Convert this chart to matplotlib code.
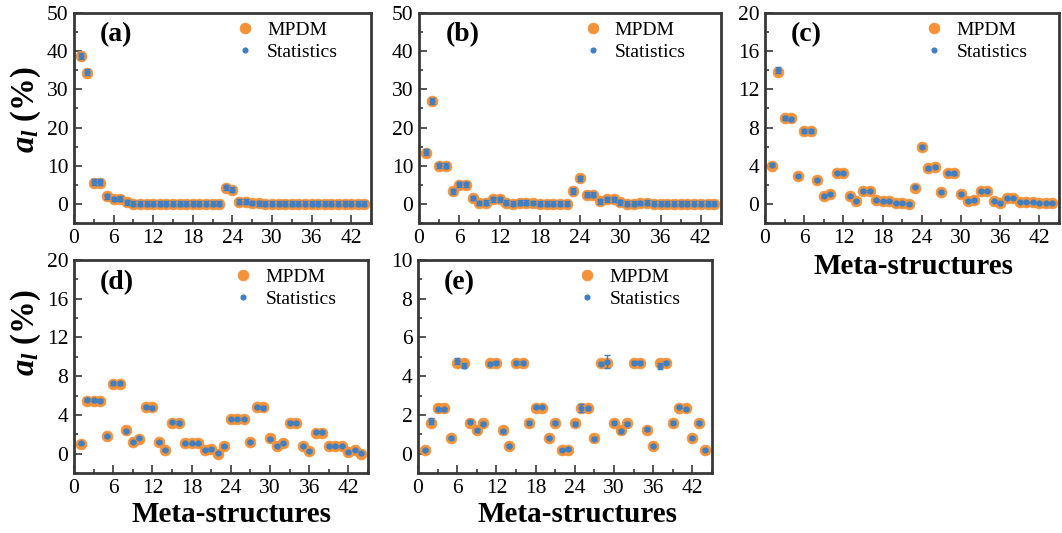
import matplotlib
matplotlib.use("Agg")
import matplotlib.pyplot as plt
from matplotlib.ticker import MultipleLocator
import numpy as np

plt.rcParams['font.family'] = ['Liberation Serif', 'DejaVu Serif']
plt.rcParams['mathtext.fontset'] = 'custom'
plt.rcParams['mathtext.it'] = 'Liberation Serif:italic:bold'
plt.rcParams['mathtext.rm'] = 'Liberation Serif:bold'
plt.rcParams['mathtext.bf'] = 'Liberation Serif:bold'

# ---------------- data ----------------
x_idx = list(range(1, 45))

a_mpdm = [38.7, 34.4, 5.6, 5.6, 2.0, 1.3, 1.4, 0.4, 0.1, 0.1,
          0.1, 0.1, 0.1, 0.05, 0.05, 0.05, 0.05, 0.05, 0.05, 0.05,
          0.05, 0.05, 4.2, 3.7, 0.6, 0.6, 0.25, 0.15, 0.1, 0.1,
          0.05, 0.05, 0.05, 0.05, 0.05, 0.05, 0.05, 0.05, 0.05, 0.05,
          0.05, 0.05, 0.05, 0.05]
a_stat = [38.8, 34.5, 5.7, 5.7, 2.0, 1.3, 1.4, 0.4, 0.1, 0.1,
          0.1, 0.1, 0.1, 0.05, 0.05, 0.05, 0.05, 0.05, 0.05, 0.05,
          0.05, 0.05, 4.3, 3.7, 0.6, 0.6, 0.25, 0.15, 0.1, 0.1,
          0.05, 0.05, 0.05, 0.05, 0.05, 0.05, 0.05, 0.05, 0.05, 0.05,
          0.05, 0.05, 0.05, 0.05]
a_err = [0.8, 0.8, 0.7, 0.7, 0.6, 0.6, 0.6, 0.6, 0.6, 0.6,
         0.6, 0.6, 0.6, 0.6, 0.6, 0.6, 0.6, 0.6, 0.6, 0.6,
         0.6, 0.6, 0.7, 0.7, 0.6, 0.6, 0.6, 0.6, 0.6, 0.6,
         0.6, 0.6, 0.6, 0.6, 0.6, 0.6, 0.6, 0.6, 0.6, 0.6,
         0.6, 0.6, 0.6, 0.6]

b_mpdm = [13.4, 26.9, 10.0, 9.9, 3.3, 5.0, 5.0, 1.6, 0.2, 0.3,
          1.2, 1.2, 0.3, 0.1, 0.3, 0.3, 0.2, 0.1, 0.1, 0.05,
          0.05, 0.05, 3.3, 6.7, 2.4, 2.4, 0.7, 1.2, 1.2, 0.4,
          0.1, 0.1, 0.2, 0.3, 0.1, 0.1, 0.05, 0.1, 0.05, 0.05,
          0.05, 0.05, 0.05, 0.05]
b_stat = [13.5, 27.0, 10.1, 10.0, 3.3, 5.1, 5.1, 1.6, 0.2, 0.3,
          1.2, 1.2, 0.3, 0.1, 0.3, 0.3, 0.2, 0.1, 0.1, 0.05,
          0.05, 0.05, 3.4, 6.7, 2.4, 2.4, 0.7, 1.2, 1.2, 0.4,
          0.1, 0.1, 0.2, 0.3, 0.1, 0.1, 0.05, 0.1, 0.05, 0.05,
          0.05, 0.05, 0.05, 0.05]
b_err = [0.8, 0.8, 0.7, 0.7, 0.6, 0.6, 0.6, 0.6, 0.6, 0.6,
         0.6, 0.6, 0.6, 0.6, 0.6, 0.6, 0.6, 0.6, 0.6, 0.6,
         0.6, 0.6, 0.7, 0.7, 0.6, 0.6, 0.6, 0.6, 0.6, 0.6,
         0.6, 0.6, 0.6, 0.6, 0.6, 0.6, 0.6, 0.6, 0.6, 0.6,
         0.6, 0.6, 0.6, 0.6]

c_mpdm = [4.0, 13.8, 8.95, 8.95, 2.95, 7.65, 7.6, 2.5, 0.8, 1.05,
          3.25, 3.25, 0.8, 0.3, 1.35, 1.35, 0.4, 0.35, 0.35, 0.1,
          0.1, 0.0, 1.7, 6.0, 3.8, 3.85, 1.25, 3.25, 3.2, 1.05,
          0.3, 0.45, 1.35, 1.35, 0.3, 0.05, 0.6, 0.6, 0.25, 0.15,
          0.15, 0.05, 0.05, 0.05]
c_stat = [4.1, 14.0, 9.0, 8.85, 2.95, 7.65, 7.6, 2.5, 0.8, 1.05,
          3.25, 3.25, 0.8, 0.3, 1.4, 1.4, 0.4, 0.35, 0.35, 0.1,
          0.1, 0.0, 1.75, 6.0, 3.75, 3.85, 1.25, 3.25, 3.2, 1.05,
          0.3, 0.45, 1.35, 1.4, 0.3, 0.05, 0.6, 0.6, 0.25, 0.15,
          0.15, 0.05, 0.05, 0.05]
c_err = [0.15, 0.3, 0.2, 0.2, 0.12, 0.2, 0.2, 0.12, 0.1, 0.1,
         0.12, 0.12, 0.1, 0.1, 0.1, 0.1, 0.1, 0.1, 0.1, 0.1,
         0.1, 0.1, 0.1, 0.12, 0.15, 0.12, 0.1, 0.12, 0.12, 0.1,
         0.1, 0.1, 0.1, 0.1, 0.1, 0.1, 0.1, 0.1, 0.1, 0.1,
         0.1, 0.1, 0.1, 0.1]

d_mpdm = [1.0, 5.4, 5.4, 5.4, 1.8, 7.2, 7.2, 2.4, 1.2, 1.55,
          4.85, 4.8, 1.2, 0.4, 3.2, 3.2, 1.05, 1.05, 1.05, 0.35,
          0.5, 0.0, 0.75, 3.6, 3.6, 3.6, 1.2, 4.85, 4.8, 1.6,
          0.8, 1.05, 3.2, 3.2, 0.8, 0.25, 2.15, 2.15, 0.75, 0.75,
          0.75, 0.2, 0.4, 0.0]
d_stat = [1.05, 5.55, 5.5, 5.45, 1.8, 7.25, 7.25, 2.35, 1.2, 1.6,
          4.85, 4.75, 1.25, 0.4, 3.25, 3.2, 1.05, 1.05, 1.05, 0.35,
          0.5, 0.05, 0.75, 3.55, 3.55, 3.55, 1.2, 4.85, 4.75, 1.55,
          0.8, 1.05, 3.2, 3.15, 0.8, 0.25, 2.2, 2.2, 0.75, 0.75,
          0.75, 0.2, 0.4, 0.05]
d_err = [0.1, 0.15, 0.15, 0.15, 0.1, 0.15, 0.15, 0.1, 0.1, 0.1,
         0.12, 0.12, 0.1, 0.1, 0.12, 0.12, 0.1, 0.1, 0.1, 0.1,
         0.1, 0.1, 0.1, 0.12, 0.12, 0.12, 0.1, 0.12, 0.12, 0.1,
         0.1, 0.1, 0.12, 0.12, 0.1, 0.1, 0.1, 0.1, 0.1, 0.1,
         0.1, 0.1, 0.1, 0.1]

e_mpdm = [0.2, 1.6, 2.35, 2.35, 0.8, 4.7, 4.7, 1.6, 1.2, 1.6,
          4.7, 4.7, 1.2, 0.4, 4.7, 4.7, 1.6, 2.35, 2.35, 0.8,
          1.6, 0.2, 0.2, 1.6, 2.35, 2.35, 0.8, 4.7, 4.7, 1.6,
          1.2, 1.6, 4.7, 4.7, 1.2, 0.4, 4.7, 4.7, 1.6, 2.35,
          2.35, 0.8, 1.6, 0.2]
e_stat = [0.2, 1.7, 2.3, 2.3, 0.8, 4.78, 4.55, 1.65, 1.2, 1.55,
          4.65, 4.7, 1.15, 0.4, 4.7, 4.7, 1.6, 2.4, 2.4, 0.8,
          1.6, 0.2, 0.22, 1.55, 2.35, 2.35, 0.78, 4.65, 4.75, 1.6,
          1.15, 1.55, 4.7, 4.7, 1.25, 0.4, 4.52, 4.7, 1.6, 2.4,
          2.3, 0.8, 1.6, 0.2]
e_err = [0.06, 0.15, 0.08, 0.08, 0.06, 0.15, 0.15, 0.08, 0.06, 0.06,
         0.08, 0.06, 0.08, 0.06, 0.06, 0.06, 0.06, 0.06, 0.06, 0.06,
         0.06, 0.05, 0.05, 0.06, 0.2, 0.08, 0.06, 0.06, 0.35, 0.06,
         0.06, 0.06, 0.06, 0.06, 0.06, 0.06, 0.15, 0.06, 0.06, 0.06,
         0.06, 0.06, 0.06, 0.06]

x_ticks = [0, 6, 12, 18, 24, 30, 36, 42]
panel_labels = ['(a)', '(b)', '(c)', '(d)', '(e)']
ylims = [(-5, 50), (-5, 50), (-2, 20), (-2, 20), (-1, 10)]
ymajor = [10, 10, 4, 4, 2]
series_mpdm = [a_mpdm, b_mpdm, c_mpdm, d_mpdm, e_mpdm]
series_stat = [a_stat, b_stat, c_stat, d_stat, e_stat]
series_err = [a_err, b_err, c_err, d_err, e_err]

# ---------------- layout ----------------
W, H = 1062, 533
boxes = [(74, 13, 371, 223), (419, 13, 721, 223), (765, 13, 1059, 223),
         (74, 260, 368, 473), (418, 260, 712, 473)]

ORANGE = '#F4923A'
BLUE = '#3F7FC2'
SPINE = '#383838'

fig = plt.figure(figsize=(W / 100, H / 100), dpi=100)

for i, (x0, y0, x1, y1) in enumerate(boxes):
    ax = fig.add_axes([x0 / W, 1 - y1 / H, (x1 - x0) / W, (y1 - y0) / H])
    m, = ax.plot(x_idx, series_mpdm[i], 'o', ms=7.8, color=ORANGE, mec=ORANGE,
                 mew=0.5, zorder=2, label='MPDM')
    ax.errorbar(x_idx, series_stat[i], yerr=series_err[i], fmt='none',
                ecolor=BLUE, elinewidth=1.0, capsize=2.4, capthick=1.0, zorder=3)
    s, = ax.plot(x_idx, series_stat[i], 'o', ms=3.4, color=BLUE, mec=BLUE,
                 zorder=4, label='Statistics')
    ax.set_xlim(0, 45)
    ax.set_ylim(*ylims[i])
    ax.set_xticks(x_ticks)
    ax.xaxis.set_minor_locator(MultipleLocator(3))
    ax.yaxis.set_major_locator(MultipleLocator(ymajor[i]))
    ax.yaxis.set_minor_locator(MultipleLocator(ymajor[i] / 2))
    ax.tick_params(which='both', direction='in', top=False, right=False,
                   color=SPINE, labelsize=15.5, width=1.2)
    ax.tick_params(which='major', length=5.5, pad=4)
    ax.tick_params(which='minor', length=3)
    for sp in ax.spines.values():
        sp.set_color(SPINE)
        sp.set_linewidth(2.0)
    ax.text(0.088, 0.895, panel_labels[i], transform=ax.transAxes,
            fontsize=20, fontweight='bold', va='center', ha='left')
    ax.legend(handles=[m, s], loc='upper left', bbox_to_anchor=(0.543, 0.96),
              frameon=False, fontsize=14, handlelength=1.0, handletextpad=0.63,
              borderpad=0, borderaxespad=0, labelspacing=0.2, markerscale=1.0)

# y labels
fig.text(26 / W, 1 - 110 / H, r'$a_l$ (%)', rotation=90, fontsize=23.5,
         fontweight='bold', ha='center', va='center')
fig.text(26 / W, 1 - 333 / H, r'$a_l$ (%)', rotation=90, fontsize=23.5,
         fontweight='bold', ha='center', va='center')

# x labels
for cx, cy in [(913, 266), (232, 515), (577, 515)]:
    fig.text(cx / W, 1 - cy / H, 'Meta-structures', fontsize=21,
             fontweight='bold', ha='center', va='center')

fig.savefig('out.png', dpi=100)
